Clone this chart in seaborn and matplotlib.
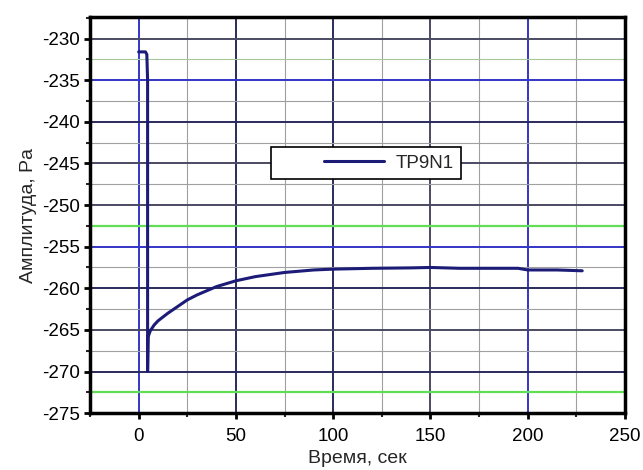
'''
Amplitude vs time for TP9N1 sensor
'''
import matplotlib
matplotlib.use('Agg')
import matplotlib.pyplot as plt
from matplotlib.ticker import MultipleLocator
from matplotlib.lines import Line2D
from matplotlib.legend_handler import HandlerLine2D
import seaborn as sns
import pandas as pd

# Data
time_s = [0, 3.5, 4.2, 4.6, 4.6, 4.9, 6, 8, 10, 15, 20, 25, 30, 40, 50, 60,
          75, 90, 100, 120, 140, 150, 165, 180, 195, 200, 215, 228]
amplitude = [-231.6, -231.6, -231.9, -235.0, -270.0, -265.8, -265.1, -264.4,
             -263.9, -263.0, -262.2, -261.4, -260.8, -259.8, -259.1, -258.6,
             -258.1, -257.8, -257.7, -257.6, -257.55, -257.5, -257.6, -257.6,
             -257.6, -257.8, -257.8, -257.9]
series_name = 'TP9N1'

# Gridline colours (as in the original image)
NAVY = '#2a2a5e'
BLUE = '#3535c8'
DARKGRAY = '#4a4a62'
LIGHTGRAY = '#a0a0a0'
GREEN = '#62dd55'
y_major_colors = {-230: DARKGRAY, -235: BLUE, -240: NAVY, -245: DARKGRAY,
                  -250: DARKGRAY, -255: BLUE, -260: NAVY, -265: DARKGRAY,
                  -270: NAVY}
y_minor_colors = {-232.5: '#a6c89a', -252.5: GREEN, -272.5: GREEN}
x_major_colors = {0: BLUE, 50: NAVY, 100: NAVY, 150: DARKGRAY, 200: BLUE}

df = pd.DataFrame({'t': time_s, 'amp': amplitude})

sns.set_style('white')
plt.rcParams['font.family'] = ['Liberation Sans', 'DejaVu Sans']
plt.rcParams['axes.unicode_minus'] = False

fig, ax = plt.subplots(figsize=(6.43, 4.70), dpi=100)
fig.subplots_adjust(left=0.14, right=0.972, top=0.964, bottom=0.121)

sns.lineplot(data=df, x='t', y='amp', sort=False, estimator=None,
             color='#1c1c78', linewidth=2.2, label=series_name, ax=ax)

ax.set_xlim(-25, 250)
ax.set_ylim(-275, -227.4)
ax.xaxis.set_major_locator(MultipleLocator(50))
ax.xaxis.set_minor_locator(MultipleLocator(25))
ax.yaxis.set_major_locator(MultipleLocator(5))
ax.yaxis.set_minor_locator(MultipleLocator(2.5))

ax.tick_params(which='major', direction='out', length=4, width=2,
               labelsize=13.5, colors='black', bottom=True, left=True)
ax.tick_params(axis='x', which='major', pad=7)
ax.tick_params(axis='y', which='major', pad=3)
ax.tick_params(which='minor', direction='out', length=3, width=1.5,
               bottom=True, left=True)
for s in ax.spines.values():
    s.set_visible(True)
    s.set_color('black')
    s.set_linewidth(2.5)

ax.set_xlabel('Время, сек', fontsize=14, labelpad=3)
ax.set_ylabel('Амплитуда, Pa', fontsize=14, labelpad=4)

# grid, then recolour single lines
ax.grid(True, which='major', color=NAVY, linewidth=1.4)
ax.grid(True, which='minor', color=LIGHTGRAY, linewidth=0.8)
ax.set_axisbelow(True)
fig.canvas.draw()
for loc, tick in zip(ax.yaxis.get_majorticklocs(), ax.yaxis.get_major_ticks()):
    tick.gridline.set_color(y_major_colors.get(round(loc, 1), NAVY))
for loc, tick in zip(ax.yaxis.get_minorticklocs(), ax.yaxis.get_minor_ticks()):
    c = y_minor_colors.get(round(loc, 1), LIGHTGRAY)
    tick.gridline.set_color(c)
    if c == GREEN:
        tick.gridline.set_linewidth(1.6)
for loc, tick in zip(ax.xaxis.get_majorticklocs(), ax.xaxis.get_major_ticks()):
    tick.gridline.set_color(x_major_colors.get(round(loc), NAVY))

leg = ax.legend(loc='center', bbox_to_anchor=(0.516, 0.631), fontsize=13.5,
                handlelength=5.6, handletextpad=0.6, borderpad=0.4,
                fancybox=False, framealpha=1, edgecolor='black',
                handler_map={Line2D: HandlerLine2D(xpad=2.4)})
leg.get_frame().set_linewidth(1.2)

plt.savefig('out.png', dpi=100)
